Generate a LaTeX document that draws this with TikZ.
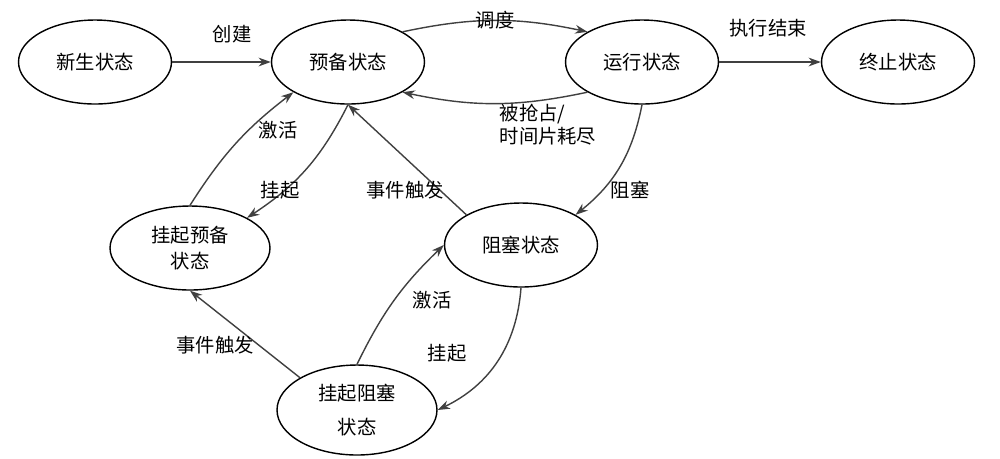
\documentclass[tikz,border=0pt]{standalone}
\usepackage{fontspec}
\setmainfont{Noto Sans CJK SC}
\usetikzlibrary{shapes.geometric,arrows.meta}
\begin{document}
\begin{tikzpicture}[x=0.02cm,y=-0.02cm,
	state/.style={ellipse, draw, thick, inner sep=0pt, minimum width=3.06cm, minimum height=1.68cm, align=center, font=\fontsize{11}{15}\selectfont},
	trans/.style={-{Stealth[length=7pt,width=5pt]}, thick, black!75},
	lbl/.style={font=\fontsize{11}{13}\selectfont, align=left}]
	\useasboundingbox (0,0) rectangle (1000,458);

	% states
	\node[state] (new) at (95,62) {新生状态};
	\node[state] (ready) at (348,62) {预备状态};
	\node[state] (run) at (642,62) {运行状态};
	\node[state] (end) at (898,62) {终止状态};
	\node[state, minimum width=3.2cm] (sready) at (190,248) {挂起预备\\状态};
	\node[state] (block) at (521,245) {阻塞状态};
	\node[state, minimum width=3.2cm, minimum height=1.8cm] (sblock) at (357,410) {挂起阻塞\\[4pt]状态};

	% transitions
	\draw[trans] (new) -- (ready);
	\draw[trans] (ready.north east) to[bend left=12] (run.north west);
	\draw[trans] (run.south west) to[bend left=12] (ready.south east);
	\draw[trans] (run) -- (end);
	\draw[trans] (run.south) to[bend left=20] (block.north east);
	\draw[trans] (block.north west) -- (ready.south);
	\draw[trans] (ready.south) to[bend left=15] (sready.north east);
	\draw[trans] (sready.north) to[bend left=10] (ready.south west);
	\draw[trans] (sblock.north west) -- (sready.south);
	\draw[trans] (sblock.north) to[bend left=10] (block.west);
	\draw[trans] (block.south) to[bend left=30] (sblock.east);

	% labels
	\node[lbl] (l1) at (232,34) {创建};
	\node[lbl] (l2) at (495,20) {调度};
	\node[lbl] (l3) at (548,125) {被抢占/\\时间片耗尽};
	\node[lbl] (l4) at (768,28) {执行结束};
	\node[lbl] (l5) at (630,190) {阻塞};
	\node[lbl] (l6) at (405,190) {事件触发};
	\node[lbl] (l7) at (280,190) {挂起};
	\node[lbl] (l8) at (278,130) {激活};
	\node[lbl] (l9) at (215,345) {事件触发};
	\node[lbl] (l10) at (432,300) {激活};
	\node[lbl] (l11) at (447,353) {挂起};
\end{tikzpicture}
\end{document}
